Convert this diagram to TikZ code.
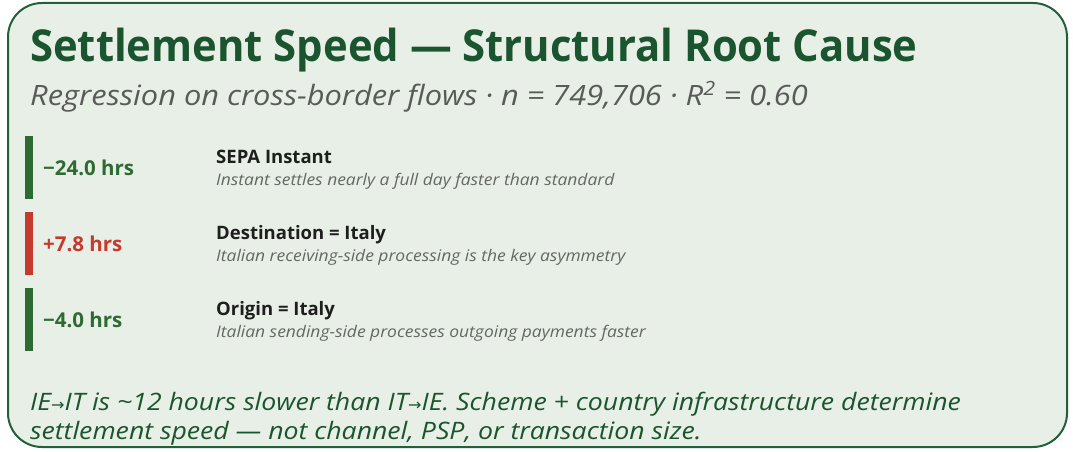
\documentclass[tikz,border=0pt]{standalone}
\usepackage{fontspec}
\setmainfont{Open Sans}
\newfontfamily\headfont[FakeStretch=0.95]{Open Sans}
\newfontfamily\widefont[FakeStretch=1.1]{Open Sans}
\newfontfamily\descfont[FakeStretch=1.09]{Open Sans}
\newfontfamily\notefont[FakeStretch=1.11]{Open Sans}
\newfontfamily\symfont{DejaVu Sans}
\definecolor{frameline}{HTML}{22603A}
\definecolor{framefill}{HTML}{E8EFE6}
\definecolor{titlegreen}{HTML}{1B5530}
\definecolor{valgreen}{HTML}{2E6B33}
\definecolor{valred}{HTML}{C43A2F}
\definecolor{subgray}{HTML}{5A5A5A}
\definecolor{descgray}{HTML}{666666}
\definecolor{labeldark}{HTML}{1E1E1E}
\tikzset{
  px/.style={x=1pt,y=-1pt},
  title/.style={anchor=base west,inner sep=0pt,text=titlegreen,font=\headfont\fontsize{44}{50}\selectfont\bfseries},
  subtitle/.style={anchor=base west,inner sep=0pt,text=subgray,font=\widefont\fontsize{28}{30}\selectfont\itshape},
  bar/.style={fill=#1,draw=none},
  value/.style={anchor=west,inner sep=0pt,text=#1,font=\fontsize{20.5}{24}\selectfont\bfseries},
  label/.style={anchor=base west,inner sep=0pt,text=labeldark,font=\fontsize{18.5}{22}\selectfont\bfseries},
  desc/.style={anchor=base west,inner sep=0pt,text=descgray,font=\descfont\fontsize{16}{18}\selectfont\itshape},
  note/.style={anchor=base west,inner sep=0pt,text=titlegreen,font=\notefont\fontsize{24}{28}\selectfont\itshape},
}
\newcommand{\flowarrow}{{\symfont\fontsize{16}{20}\selectfont →}}
\begin{document}
\begin{tikzpicture}[px]
\useasboundingbox (0,0) rectangle (1073,452);
% card
\draw[frameline,line width=2pt,fill=framefill,rounded corners=34pt] (8,3) rectangle (1067,447);
% heading
\node[title] (head) at (30,62) {Settlement Speed — Structural Root Cause};
\node[subtitle] (sub) at (30,105) {Regression on cross-border flows · n = 749,706 · R\textsuperscript{2} = 0.60};
% coefficient rows
\fill[bar=valgreen] (25,136) rectangle (33,199);
\node[value=valgreen] (v1) at (43,168) {−24.0 hrs};
\node[label] (l1) at (216,163) {SEPA Instant};
\node[desc] (d1) at (216,185) {Instant settles nearly a full day faster than standard};

\fill[bar=valred] (25,212) rectangle (33,275);
\node[value=valred] (v2) at (43,244) {+7.8 hrs};
\node[label] (l2) at (216,239) {Destination = Italy};
\node[desc] (d2) at (216,261) {Italian receiving-side processing is the key asymmetry};

\fill[bar=valgreen] (25,288) rectangle (33,351);
\node[value=valgreen] (v3) at (43,320) {−4.0 hrs};
\node[label] (l3) at (216,315) {Origin = Italy};
\node[desc] (d3) at (216,337) {Italian sending-side processes outgoing payments faster};
% conclusion
\node[note] (n1) at (30,410) {IE\flowarrow IT is \textasciitilde12 hours slower than IT\flowarrow IE. Scheme + country infrastructure determine};
\node[note] (n2) at (30,439) {settlement speed — not channel, PSP, or transaction size.};
\end{tikzpicture}
\end{document}
